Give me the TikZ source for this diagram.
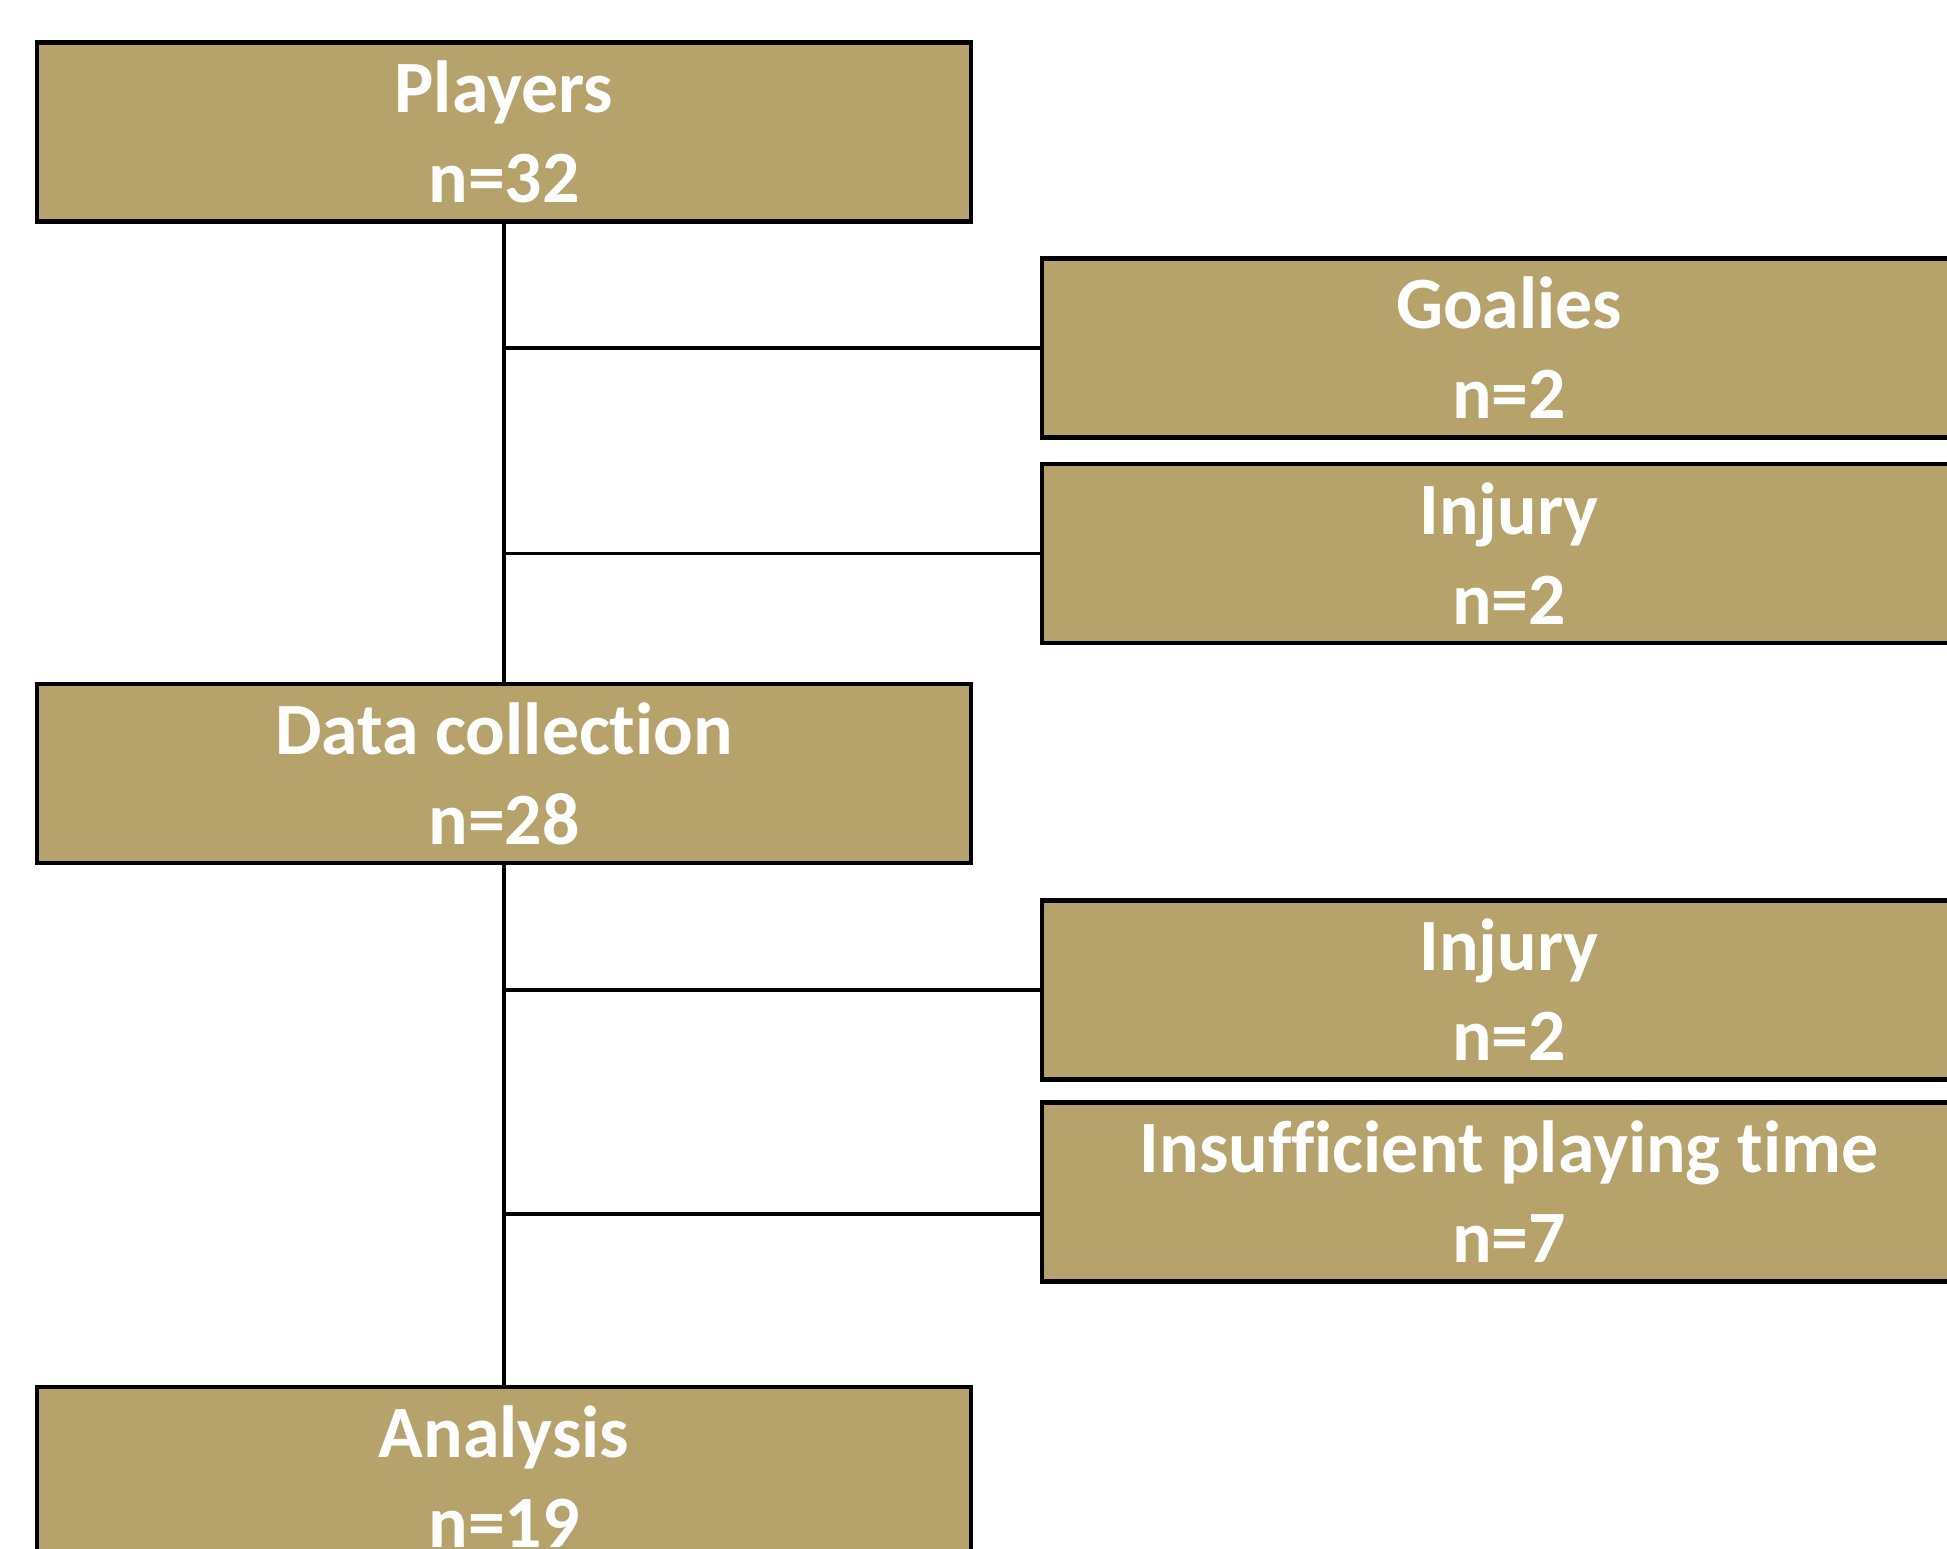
\documentclass[tikz,border=0pt]{standalone}
\usepackage{fontspec}
\setmainfont{Carlito}[Ligatures=NoCommon]
\definecolor{khaki}{RGB}{182,163,108}

\begin{document}
\begin{tikzpicture}[
    stage/.style={draw=black, line width=1.4pt, fill=khaki, minimum width=9.34cm, minimum height=1.79cm,
        align=center, text=white, font=\fontsize{21}{25.6}\selectfont\bfseries},
    link/.style={black, line width=1pt}
  ]
    \useasboundingbox (0,0) rectangle (19.47,-15.49);
    \clip (0,0) rectangle (19.47,-15.49);
    % main column
    \foreach \name/\y/\txt/\cnt in {players/-1.32/Players/32, data/-7.735/Data collection/28, analysis/-14.765/Analysis/19} {
        \node[stage] (\name) at (5.04,\y) {\txt\\n=\cnt};
    }
    % exclusions
    \foreach \name/\y/\txt/\cnt in {goal/-3.48/Goalies/2, inja/-5.535/Injury/2, injb/-9.90/Injury/2, insuf/-11.92/Insufficient playing time/7} {
        \node[stage] (\name) at (15.09,\y) {\txt\\n=\cnt};
    }
    \draw[link] (players) -- (data);
    \draw[link] (data) -- (analysis);
    \foreach \r in {goal, inja, injb} {
        \draw[link] (\r.west) -- (\r.west -| players);
    }
    \coordinate (insufin) at ([yshift=-0.22cm]insuf.west);
    \draw[link] (insufin) -- (insufin -| data);
\end{tikzpicture}
\end{document}
